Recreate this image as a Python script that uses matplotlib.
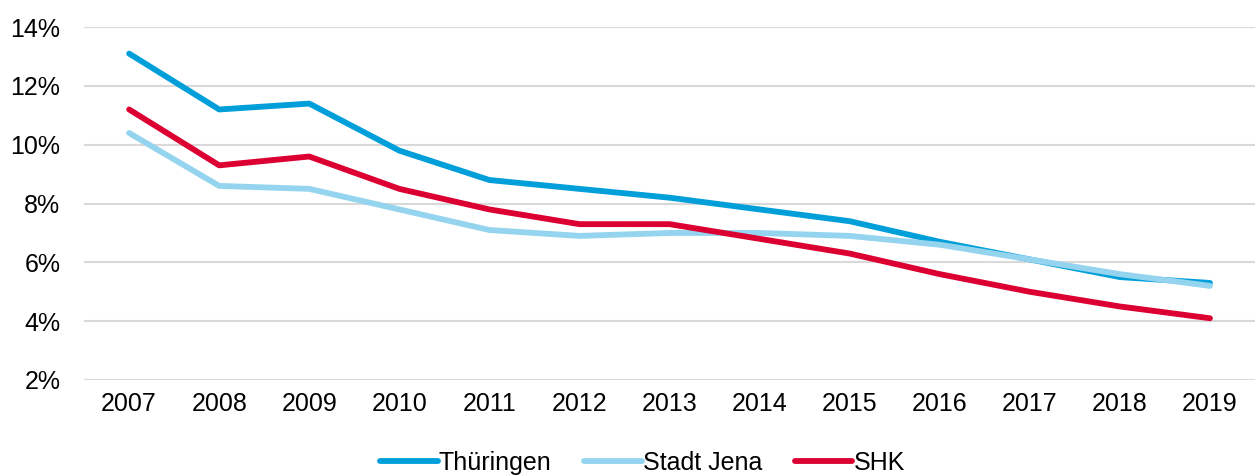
import matplotlib.pyplot as plt
from matplotlib.ticker import PercentFormatter

plt.rcParams['font.family'] = ['Liberation Sans', 'DejaVu Sans']

years = ["2007", "2008", "2009", "2010", "2011", "2012", "2013",
         "2014", "2015", "2016", "2017", "2018", "2019"]
thueringen = [13.1, 11.2, 11.4, 9.8, 8.8, 8.5, 8.2, 7.8, 7.4, 6.7, 6.1, 5.5, 5.3]
stadt_jena = [10.4, 8.6, 8.5, 7.8, 7.1, 6.9, 7.0, 7.0, 6.9, 6.6, 6.1, 5.6, 5.2]
shk = [11.2, 9.3, 9.6, 8.5, 7.8, 7.3, 7.3, 6.8, 6.3, 5.6, 5.0, 4.5, 4.1]

fig = plt.figure(figsize=(12.55, 4.76), dpi=100)
ax = fig.add_axes([0.067, 0.2017, 0.933, 0.7413])

x = range(len(years))
ax.plot(x, thueringen, color="#009FDA", lw=4.2, label="Thüringen", solid_capstyle="round")
ax.plot(x, stadt_jena, color="#95D4EE", lw=4.2, label="Stadt Jena", solid_capstyle="round")
ax.plot(x, shk, color="#DC0032", lw=4.2, label="SHK", solid_capstyle="round")

ax.set_xlim(-0.5, len(years) - 0.5)
ax.set_ylim(2, 14)
ax.set_yticks([2, 4, 6, 8, 10, 12, 14])
ax.yaxis.set_major_formatter(PercentFormatter(decimals=0))
ax.set_xticks(list(x))
ax.set_xticklabels(years)
ax.tick_params(length=0, labelsize=18, colors="black", pad=9)
ax.tick_params(axis="y", pad=17)

ax.grid(axis="y", color="#D9D9D9", lw=1.5)
ax.set_axisbelow(True)
for s in ax.spines.values():
    s.set_visible(False)

fig.legend(loc="lower center", bbox_to_anchor=(0.512, -0.045), ncol=3, frameon=False,
           fontsize=18, handlelength=2.3, handletextpad=0.05, columnspacing=1.3)

fig.savefig("out.png", dpi=100)
